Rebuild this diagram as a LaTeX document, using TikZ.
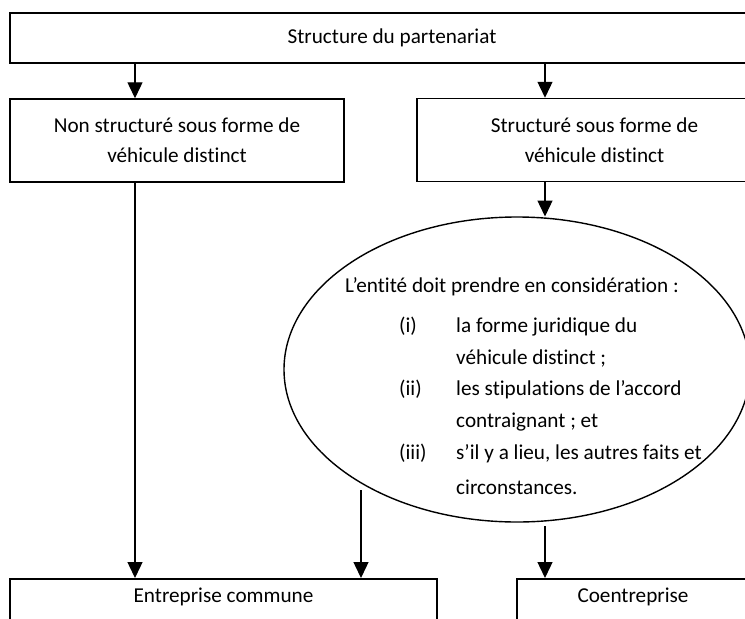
\documentclass[tikz,border=0pt]{standalone}
\usepackage{fontspec}
\setmainfont[Ligatures={NoCommon}]{Carlito}
\usetikzlibrary{arrows.meta,shapes.geometric}
\begin{document}
\begin{tikzpicture}[x=1pt,y=-1pt,
  box/.style={draw, line width=1.5pt, rectangle, inner sep=0pt, align=center},
  txt/.style={inner sep=0pt, font=\fontsize{21.2}{30}\selectfont},
  bl/.style={txt, anchor=base west},
  arr/.style={line width=1.4pt, -{Triangle[width=15pt,length=16pt]}}]
\useasboundingbox (0,0) rectangle (745,619);
\clip (0,0) rectangle (745,619);
\fill[white] (0,0) rectangle (745,619);
% boxes
\node[box, txt, minimum width=764pt, minimum height=50pt] (top) at (392,38) {Structure du partenariat};
\node[box, txt, minimum width=334pt, minimum height=83pt] (nsv) at (177,140.5) {Non structuré sous forme de\\véhicule distinct};
\node[box, txt, minimum width=355pt, minimum height=83pt] (sv) at (594.5,140) {Structuré sous forme de\\véhicule distinct};
\node[box, minimum width=427pt, minimum height=80pt, anchor=north] (ec) at (223.5,578) {};
\node[txt] (ect) at (223.5,597) {Entreprise commune};
\node[box, minimum width=232pt, minimum height=80pt, anchor=north] (co) at (633,578) {};
\node[txt] (cot) at (633,597) {Coentreprise};
% ellipse
\node[draw, ellipse, line width=1.4pt, inner sep=0pt, minimum width=466pt, minimum height=305pt] (ell) at (517,369.5) {};
\node[bl] (l0) at (345,292) {L’entité doit prendre en considération :};
\node[bl] (n1) at (399,332) {(i)};
\node[bl] (l1) at (456,332) {la forme juridique du};
\node[bl] (l2) at (456,364) {véhicule distinct ;};
\node[bl] (n2) at (399,395) {(ii)};
\node[bl] (l3) at (456,395) {les stipulations de l’accord};
\node[bl] (l4) at (456,427) {contraignant ; et};
\node[bl] (n3) at (399,459) {(iii)};
\node[bl] (l5) at (456,459) {s’il y a lieu, les autres faits et};
\node[bl] (l6) at (456,494) {circonstances.};
% connectors
\coordinate (xl) at (135,0);
\coordinate (xm) at (361,0);
\coordinate (xr) at (545,0);
\coordinate (ms) at (361,490);
\draw[arr] (top.south -| xl) -- (nsv.north -| xl);
\draw[arr] (top.south -| xr) -- (sv.north -| xr);
\draw[arr] (sv.south -| xr) -- (545,216.5);
\draw[arr] (nsv.south -| xl) -- (ec.north -| xl);
\draw[arr] (ms) -- (ec.north -| xm);
\draw[arr] (545,526) -- (co.north -| xr);
\end{tikzpicture}
\end{document}
